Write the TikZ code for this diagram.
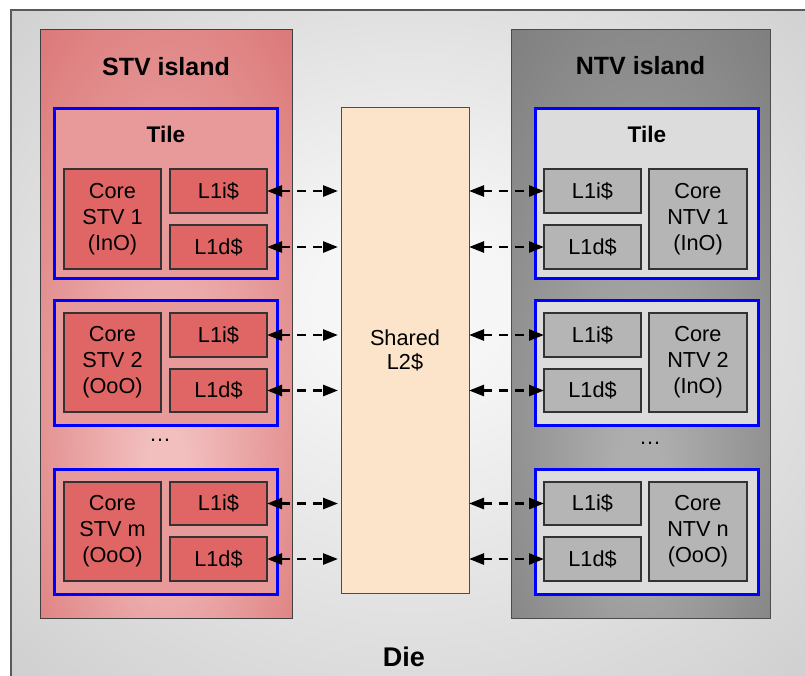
\documentclass[tikz,border=0pt]{standalone}
\usepackage{fontspec}
\setmainfont{Liberation Sans}
\usetikzlibrary{arrows.meta,calc}

\definecolor{dieedge}{HTML}{BDBDBD}
\definecolor{diecore}{HTML}{F6F6F6}
\definecolor{stvedge}{HTML}{D45F5F}
\definecolor{stvcore}{HTML}{F2BEBE}
\definecolor{ntvedge}{HTML}{6E6E6E}
\definecolor{ntvcore}{HTML}{AEAEAE}
\definecolor{stvtile}{HTML}{E89999}
\definecolor{ntvtile}{HTML}{DCDCDC}
\definecolor{stvunit}{HTML}{E06666}
\definecolor{ntvunit}{HTML}{B5B5B5}
\definecolor{sharedfill}{HTML}{FCE4CB}
\definecolor{tileblue}{HTML}{0000FF}

% soft glows for the die and the two islands
\pgfdeclareradialshading{dieglow}{\pgfpoint{0bp}{4bp}}{color(0bp)=(diecore); color(6bp)=(diecore); color(50bp)=(dieedge)}
\pgfdeclareradialshading{stvglow}{\pgfpoint{0bp}{-14bp}}{color(0bp)=(stvcore); color(4bp)=(stvcore); color(50bp)=(stvedge)}
\pgfdeclareradialshading{ntvglow}{\pgfpoint{0bp}{-14bp}}{color(0bp)=(ntvcore); color(4bp)=(ntvcore); color(50bp)=(ntvedge)}

\begin{document}
\begin{tikzpicture}[x=1pt,y=-1pt,
  every node/.style={inner sep=0pt, outer sep=0pt},
  region/.style={draw=black!70, line width=0.9pt, anchor=north west},
  tilebox/.style={draw=tileblue, line width=3pt, anchor=north west, minimum width=223pt},
  unitbox/.style={draw=black!80, line width=1.1pt, anchor=north west, align=center,
    minimum width=97pt, font=\fontsize{21.7}{26}\selectfont},
  stvbox/.style={unitbox, fill=stvunit},
  ntvbox/.style={unitbox, fill=ntvunit},
  title/.style={font=\bfseries\fontsize{25}{30}\selectfont},
  tiletitle/.style={font=\bfseries\fontsize{22.6}{27}\selectfont},
  link/.style={draw=black, line width=2.6pt, dash pattern=on 9pt off 7pt,
    {Triangle[length=15pt,width=11pt]}-{Triangle[length=15pt,width=11pt]}},
]
\useasboundingbox (0,0) rectangle (805,675);
\clip (0,0) rectangle (805,675);
\fill[white] (0,0) rectangle (805,675);

% die
\node[region, draw=black!65, line width=1.3pt, shading=dieglow,
      minimum width=802pt, minimum height=676pt] (die) at (11,10) {};
\node[font=\bfseries\fontsize{27}{32}\selectfont] (dielabel) at (404,657) {Die};

% islands
\node[region, draw=black!75, shading=stvglow, minimum width=252pt, minimum height=589pt] (stv) at (40,29) {};
\node[title] (stvlabel) at ($(stv.north)+(0,38)$) {STV island};
\node[region, shading=ntvglow, minimum width=259pt, minimum height=589pt] (ntv) at (511,29) {};
\node[title] (ntvlabel) at ($(ntv.north)+(0,37)$) {NTV island};

% shared cache
\node[region, fill=sharedfill, minimum width=128pt, minimum height=486pt,
      align=center, font=\fontsize{21.7}{24}\selectfont] (l2) at (341,107) {Shared\\L2\$};

% STV tiles
\node[tilebox, fill=stvtile, minimum height=170pt] (st1) at (54.5,108.5) {};
\node[tiletitle] (st1label) at ($(st1.north)+(0,26)$) {Tile};
\node[tilebox, fill=stvtile, minimum height=125pt] (st2) at (54.5,300.5) {};
\node[tilebox, fill=stvtile, minimum height=125pt] (st3) at (54.5,469.5) {};

\node[stvbox, minimum height=100pt] (sc1) at (64,169) {Core\\STV 1\\(InO)};
\node[stvbox, minimum height=44pt] (s1i) at (170,169) {L1i\$};
\node[stvbox, minimum height=44pt] (s1d) at (170,225) {L1d\$};

\node[stvbox, minimum height=99pt] (sc2) at (64,313) {Core\\STV 2\\(OoO)};
\node[stvbox, minimum height=44pt] (s2i) at (170,313) {L1i\$};
\node[stvbox, minimum height=43pt] (s2d) at (170,369) {L1d\$};

\node[stvbox, minimum height=99pt] (sc3) at (64,482) {Core\\STV m\\(OoO)};
\node[stvbox, minimum height=43pt] (s3i) at (170,482) {L1i\$};
\node[stvbox, minimum height=44pt] (s3d) at (170,537) {L1d\$};

\node[font=\fontsize{22}{26}\selectfont] (stvdots) at (160,440) {\dots};

% NTV tiles
\node[tilebox, fill=ntvtile, minimum height=170pt] (nt1) at (535.5,108.5) {};
\node[tiletitle] (nt1label) at ($(nt1.north)+(0,26)$) {Tile};
\node[tilebox, fill=ntvtile, minimum height=125pt] (nt2) at (535.5,300.5) {};
\node[tilebox, fill=ntvtile, minimum height=125pt] (nt3) at (535.5,469.5) {};

\node[ntvbox, minimum height=44pt] (n1i) at (544,169) {L1i\$};
\node[ntvbox, minimum height=44pt] (n1d) at (544,225) {L1d\$};
\node[ntvbox, minimum width=98pt, minimum height=100pt] (nc1) at (649,169) {Core\\NTV 1\\(InO)};

\node[ntvbox, minimum height=44pt] (n2i) at (544,313) {L1i\$};
\node[ntvbox, minimum height=43pt] (n2d) at (544,369) {L1d\$};
\node[ntvbox, minimum width=98pt, minimum height=99pt] (nc2) at (649,313) {Core\\NTV 2\\(InO)};

\node[ntvbox, minimum height=43pt] (n3i) at (544,482) {L1i\$};
\node[ntvbox, minimum height=44pt] (n3d) at (544,537) {L1d\$};
\node[ntvbox, minimum width=98pt, minimum height=99pt] (nc3) at (649,482) {Core\\NTV n\\(OoO)};

\node[font=\fontsize{22}{26}\selectfont] (ntvdots) at (650,443) {\dots};

% private caches to the shared cache
\foreach \c in {s1i,s1d,s2i,s2d,s3i,s3d}
  \draw[link] (\c.east) -- ([xshift=-3pt]\c.east -| l2.west);
\foreach \c in {n1i,n1d,n2i,n2d,n3i,n3d}
  \draw[link] (\c.west -| l2.east) -- (\c.west);
\end{tikzpicture}
\end{document}
